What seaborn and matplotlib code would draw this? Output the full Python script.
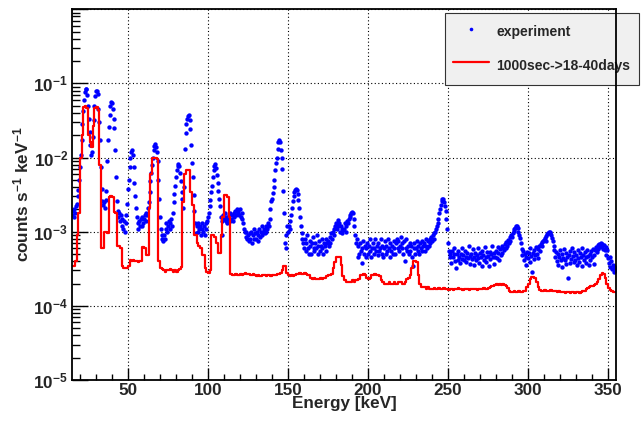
import numpy as np
import pandas as pd
import matplotlib
matplotlib.use("Agg")
import matplotlib.pyplot as plt
import seaborn as sns
from matplotlib.ticker import MultipleLocator, LogLocator, FuncFormatter, NullFormatter
from matplotlib.lines import Line2D

# ---------------------------------------------------------------------------
# Measured spectrum: channel energies every 0.5 keV from 15 to 355 keV,
# rates in units of 1e-4 counts s^-1 keV^-1 (one row = 10 keV)
# ---------------------------------------------------------------------------
exp_energy = np.arange(15.0, 355.01, 0.5)
exp_rate_e4 = [
    17, 19, 16, 20, 18, 22, 24, 30, 36, 50, 74, 110, 170, 280, 420, 600, 760, 850, 830, 700,
    500, 330, 220, 150, 110, 120, 190, 320, 500, 680, 780, 800, 720, 450, 300, 170, 75, 38, 26, 23,
    25, 21, 27, 35, 90, 170, 260, 380, 490, 560, 550, 450, 330, 250, 125, 55, 26, 19, 16, 18,
    14, 17, 12, 15, 11, 14, 10, 13, 17, 24, 38, 50, 75, 100, 118, 125, 110, 75, 45, 30,
    21, 16, 13, 11, 14, 12, 15, 12, 16, 13, 15, 17, 14, 18, 17, 21, 25, 34, 48, 62,
    80, 100, 125, 145, 154, 140, 120, 90, 50, 28, 16, 11, 9, 8, 7.5, 9, 8, 11, 13, 10,
    12, 14, 11, 13, 15, 12, 18, 25, 32, 42, 55, 68, 78, 83, 78, 62, 48, 34, 28, 21,
    40, 130, 215, 280, 330, 365, 375, 320, 240, 150, 85, 55, 31, 19, 13, 9.5, 12, 10, 13, 11,
    12, 9, 11, 13, 10, 12, 9, 11, 13, 14, 16, 18, 22, 27, 34, 42, 55, 68, 78, 82,
    72, 58, 45, 35, 28, 22, 16, 9, 14, 17, 15, 18, 14, 16, 13, 15, 17, 14, 18, 15,
    17, 14, 18, 16, 19, 17, 20, 18, 19, 17, 20, 16, 18, 15, 13, 11, 10, 8.5, 10, 8,
    9, 7.5, 9.5, 8, 10, 7, 9, 11, 8, 9.5, 8, 10, 7.5, 9, 11, 8.5, 10, 9, 12, 10,
    11, 9.5, 12, 10, 11, 13, 12, 15, 20, 26, 28, 33, 40, 50, 68, 85, 100, 130, 160, 171,
    160, 125, 100, 70, 35, 18, 7, 6, 9, 12, 10, 12, 11, 14, 17, 21, 26, 30, 34, 37,
    38, 37, 32, 27, 21, 16, 12, 9.5, 8, 7, 6, 8, 5.5, 7, 9, 6, 5, 7.5, 6.5, 5,
    7, 8.5, 6, 5.5, 7, 6, 9, 5, 6.5, 7.5, 5.5, 6.5, 8, 6, 5, 7, 6.5, 8, 5.5, 7,
    7.5, 6.5, 8.5, 7, 9.5, 8, 10, 11, 9, 12, 13, 11, 14.5, 12, 13, 10, 12, 9.5, 11, 10.5,
    11, 13, 10, 12, 14, 13, 15, 16, 17, 18, 18.5, 18, 15, 12, 9, 7, 8, 4.5, 6.5, 5,
    7, 5.5, 3.8, 6, 7.5, 5, 6.5, 4.5, 6, 7, 5, 6.5, 8, 5.5, 4.5, 6, 7, 5, 6, 8,
    5.5, 6.5, 4.8, 7, 5.5, 6, 8, 5, 6.5, 4.5, 6, 7.5, 5, 6.5, 5.5, 8, 6, 4.5, 7, 5.5,
    6.5, 5, 7.5, 6, 5, 7, 8, 6, 7.5, 5.5, 6.5, 8.5, 6, 7, 5, 7.5, 4, 6, 8, 5.5,
    6.5, 5, 7, 5.5, 6.5, 4.5, 3.5, 6, 7, 5, 6, 7.5, 5.5, 6.5, 5, 7, 6, 7.5, 5.5, 6.5,
    7, 5.5, 6.5, 8, 6, 7.5, 6.5, 8, 7, 8.5, 7.5, 9, 8, 9.5, 10, 11, 12, 13, 15, 18,
    20, 23, 26, 28, 28, 25, 22, 19, 15, 11, 7, 5.5, 4.5, 5, 3.8, 5.5, 4.5, 6, 5, 4,
    3.2, 5, 4.2, 5.5, 4.5, 3.8, 5, 4.3, 6, 4.8, 4.2, 5.5, 4.6, 3.9, 5.2, 4.4, 6.5, 4.7, 3.7, 5,
    4.3, 5.8, 4.6, 3.6, 5.1, 4.2, 4.9, 6, 4.4, 3.8, 5.2, 4.6, 3.5, 5.5, 4.8, 4.1, 6.2, 4.5, 3.9, 5.3,
    4.7, 3.4, 5.4, 4.3, 5, 6.4, 4.5, 3.7, 5.2, 4.6, 5.5, 4.4, 6.3, 5.1, 4.2, 5.8, 4.9, 6.5, 5.2, 6.1,
    5.6, 6.8, 6, 7.2, 6.4, 7.8, 7, 8.4, 7.6, 9, 8.5, 9.6, 10.2, 10.8, 11.3, 11.8, 12, 11.2, 10, 9,
    8.2, 7, 5.8, 4.8, 5.5, 4.2, 5, 3.6, 4.6, 5.4, 4.4, 5.2, 3.9, 6, 4.7, 2.9, 5.1, 4.3, 5.6, 4.8,
    6.2, 5, 4.4, 5.8, 6.5, 5.5, 6.8, 7.2, 6.4, 7.6, 7.8, 8.3, 7.5, 8.8, 9.2, 9.6, 10, 10, 9.5, 9,
    8.2, 7.4, 6.5, 5.6, 4.6, 5.4, 4, 5, 3.6, 4.6, 5.6, 4.2, 3.3, 5, 4.4, 5.8, 4.1, 3.7, 5.2, 4.5,
    2.4, 4.8, 3.8, 5.5, 4.3, 6, 4.7, 3.9, 5.3, 4.1, 4.8, 3.6, 5.6, 4.4, 3.9, 5.1, 4.6, 6.1, 3.5, 4.9,
    4.2, 5.4, 4.5, 3.8, 5.6, 4.7, 3.6, 5, 4.1, 5.5, 4.6, 5.8, 4.9, 3.7, 5.7, 6.3, 5.4, 6.6, 5.8, 6.9,
    6.2, 7, 6.4, 6.8, 5.9, 6.6, 5.6, 6.2, 4.9, 5.6, 4.4, 3.8, 4.6, 3.3, 4, 3.1, 3.6, 2.9, 3.4, 3.2,
    3,
]

# ---------------------------------------------------------------------------
# Simulated spectrum (1000 s irradiation, 18-40 days cooling):
# 1 keV bins starting at 15 keV, same units (one row = 10 keV)
# ---------------------------------------------------------------------------
sim_bin_low = np.arange(15, 355, 1.0)
sim_rate_e4 = [
    3.5, 3.5, 4.0, 9, 18, 98, 200, 480, 500, 460,
    200, 160, 140, 270, 470, 480, 440, 79, 6, 6,
    10, 10, 9.5, 29, 30, 29, 18.5, 18, 6.5, 6.5,
    6, 3.5, 3.2, 3.2, 3.2, 3.4, 4.1, 4.0, 4.1, 4.0,
    4.0, 3.9, 4.0, 4.0, 6.2, 6.0, 4.8, 4.8, 21, 60,
    98, 100, 100, 95, 4.0, 3.2, 3.1, 3.0, 2.9, 3.0,
    3.0, 3.1, 3.0, 2.9, 3.0, 2.9, 3.0, 3.1, 3.3, 25,
    60, 68, 68, 67, 34, 23, 9, 9, 7, 6.5,
    6, 4.8, 4.8, 3.2, 2.9, 2.8, 3.0, 8.9, 8.9, 8.5,
    7, 5.1, 5.1, 9, 16, 31, 31, 29, 16, 2.7,
    2.6, 2.6, 2.7, 2.6, 2.6, 2.7, 2.6, 2.7, 2.8, 2.7,
    2.7, 2.6, 2.6, 2.7, 2.6, 2.5, 2.6, 2.5, 2.5, 2.6,
    2.6, 2.5, 2.6, 2.6, 2.5, 2.6, 2.6, 2.6, 2.7, 2.7,
    2.8, 3.0, 3.4, 3.4, 2.8, 2.6, 2.5, 2.6, 2.5, 2.6,
    2.7, 2.7, 2.8, 2.7, 2.7, 2.8, 2.7, 2.6, 2.6, 2.4,
    2.3, 2.4, 2.3, 2.3, 2.3, 2.4, 2.3, 2.4, 2.4, 2.5,
    2.6, 2.6, 2.7, 3.2, 3.9, 4.5, 4.6, 4.5, 3.6, 2.5,
    2.2, 2.1, 2.1, 2.1, 2.1, 2.2, 2.1, 2.2, 2.2, 2.3,
    2.6, 2.6, 2.7, 2.6, 2.4, 2.3, 2.4, 2.6, 2.6, 2.7,
    2.6, 2.6, 2.5, 2.2, 2.1, 2.0, 2.0, 2.0, 2.1, 2.0,
    2.0, 2.1, 2.0, 2.0, 2.1, 2.1, 2.0, 2.0, 2.1, 2.3,
    2.4, 2.6, 3.2, 4.0, 4.0, 3.9, 2.6, 2.0, 1.8, 1.8,
    1.8, 1.7, 1.8, 1.7, 1.7, 1.7, 1.75, 1.7, 1.7, 1.75,
    1.7, 1.7, 1.75, 1.7, 1.7, 1.65, 1.7, 1.7, 1.65, 1.7,
    1.7, 1.75, 1.7, 1.7, 1.65, 1.7, 1.7, 1.7, 1.65, 1.7,
    1.7, 1.7, 1.7, 1.65, 1.7, 1.7, 1.7, 1.75, 1.7, 1.7,
    1.75, 1.8, 1.85, 1.85, 1.9, 1.95, 1.9, 1.95, 1.9, 1.95,
    1.9, 1.85, 1.75, 1.6, 1.55, 1.55, 1.6, 1.55, 1.55, 1.6,
    1.55, 1.55, 1.6, 1.6, 1.8, 2.0, 2.3, 2.45, 2.45, 2.4,
    2.1, 1.8, 1.65, 1.6, 1.6, 1.65, 1.6, 1.6, 1.6, 1.65,
    1.6, 1.6, 1.6, 1.55, 1.6, 1.55, 1.55, 1.55, 1.5, 1.55,
    1.55, 1.5, 1.55, 1.55, 1.5, 1.55, 1.55, 1.5, 1.55, 1.6,
    1.6, 1.7, 1.75, 1.8, 1.85, 1.85, 1.9, 1.95, 2.1, 2.3,
    2.6, 2.75, 2.7, 2.4, 2.0, 1.75, 1.65, 1.6, 1.55, 1.55,
]

x_ticks = [50, 100, 150, 200, 250, 300, 350]
legend_labels = ["experiment", "1000sec->18-40days"]
x_title = "Energy [keV]"
y_title = r"counts s$^{-1}$ keV$^{-1}$"

UNIT = 1e-4
exp_df = pd.DataFrame({"energy": exp_energy, "rate": np.asarray(exp_rate_e4) * UNIT})
# step outline: left bin edges plus the closing right edge
sim_edges = np.append(sim_bin_low, sim_bin_low[-1] + 1.0)
sim_vals = np.append(np.asarray(sim_rate_e4) * UNIT, sim_rate_e4[-1] * UNIT)
sim_df = pd.DataFrame({"energy": sim_edges, "rate": sim_vals})

sns.set_style("ticks")
plt.rcParams.update({
    "font.family": ["Liberation Sans", "DejaVu Sans"],
    "font.weight": "bold",
    "mathtext.fontset": "custom",
    "mathtext.rm": "Liberation Sans:bold",
    "mathtext.bf": "Liberation Sans:bold",
    "mathtext.it": "Liberation Sans:bold:italic",
    "mathtext.sf": "Liberation Sans:bold",
    "mathtext.default": "bf",
    "axes.unicode_minus": False,
})

fig = plt.figure(figsize=(6.42, 4.21), dpi=100)
fig.patch.set_facecolor("white")
ax = fig.add_axes([72 / 642, 1 - 380 / 421, 544 / 642, 370.7 / 421])

sns.scatterplot(data=exp_df, x="energy", y="rate", ax=ax, color="#0000ff",
                s=10, linewidth=0, legend=False, zorder=3)
sns.lineplot(data=sim_df, x="energy", y="rate", ax=ax, color="#ff0000",
             lw=1.6, drawstyle="steps-post", estimator=None, legend=False, zorder=4)

ax.set_yscale("log")
ax.set_xlim(15, 355)
ax.set_ylim(1e-5, 1)

ax.xaxis.set_major_locator(plt.FixedLocator(x_ticks))
ax.xaxis.set_minor_locator(MultipleLocator(10))
ax.yaxis.set_major_locator(LogLocator(base=10, numticks=12))
ax.yaxis.set_minor_locator(LogLocator(base=10, subs=np.arange(2, 10), numticks=12))
ax.yaxis.set_minor_formatter(NullFormatter())


def decade_label(v, pos):
    if v >= 0.5:
        return ""
    return r"$10^{%d}$" % int(round(np.log10(v)))


ax.yaxis.set_major_formatter(FuncFormatter(decade_label))
ax.xaxis.set_major_formatter(FuncFormatter(lambda v, p: f"{int(v)}"))

ax.tick_params(axis="both", which="both", direction="in", top=False, right=False,
               color="black", width=1.0, labelsize=12.3)
ax.tick_params(axis="x", which="major", length=8.5, pad=2.5)
ax.tick_params(axis="x", which="minor", length=4.3)
ax.tick_params(axis="y", which="major", length=11.5, pad=3)
ax.tick_params(axis="y", which="minor", length=5.8)
for lbl in ax.get_xticklabels() + ax.get_yticklabels():
    lbl.set_fontweight("bold")

ax.grid(True, which="major", color="black", linestyle=(0, (1, 2.2)), linewidth=0.8)
ax.set_axisbelow(True)
for sp in ax.spines.values():
    sp.set_linewidth(1.3)
    sp.set_color("black")
    sp.set_zorder(6)

ax.set_xlabel(x_title, fontsize=12.3, fontweight="bold")
ax.xaxis.set_label_coords(0.5, -0.042)
ax.set_ylabel(y_title, fontsize=12.3, fontweight="bold")
ax.yaxis.set_label_coords(-0.0743, 0.5)

handles = [
    Line2D([], [], ls="none", marker="o", ms=2.6, color="#0000ff", mec="none"),
    Line2D([], [], color="#ff0000", lw=1.6),
]
# the legend sits in the upper right corner and overhangs the frame; the frame
# border is drawn on top of it
leg = ax.legend(handles, legend_labels, loc="upper left",
                bbox_to_anchor=(445 / 642, 1 - 13 / 421), bbox_transform=fig.transFigure,
                frameon=True, fancybox=False, edgecolor="#333333", facecolor="#f0f0f0",
                framealpha=1, prop={"weight": "bold", "size": 10},
                handlelength=2.6, handleheight=1.99, handletextpad=0.5,
                borderpad=0.6, labelspacing=0.88, borderaxespad=0)
leg.get_frame().set_linewidth(0.8)
leg.set_zorder(5)

fig.savefig("out.png", dpi=100)
